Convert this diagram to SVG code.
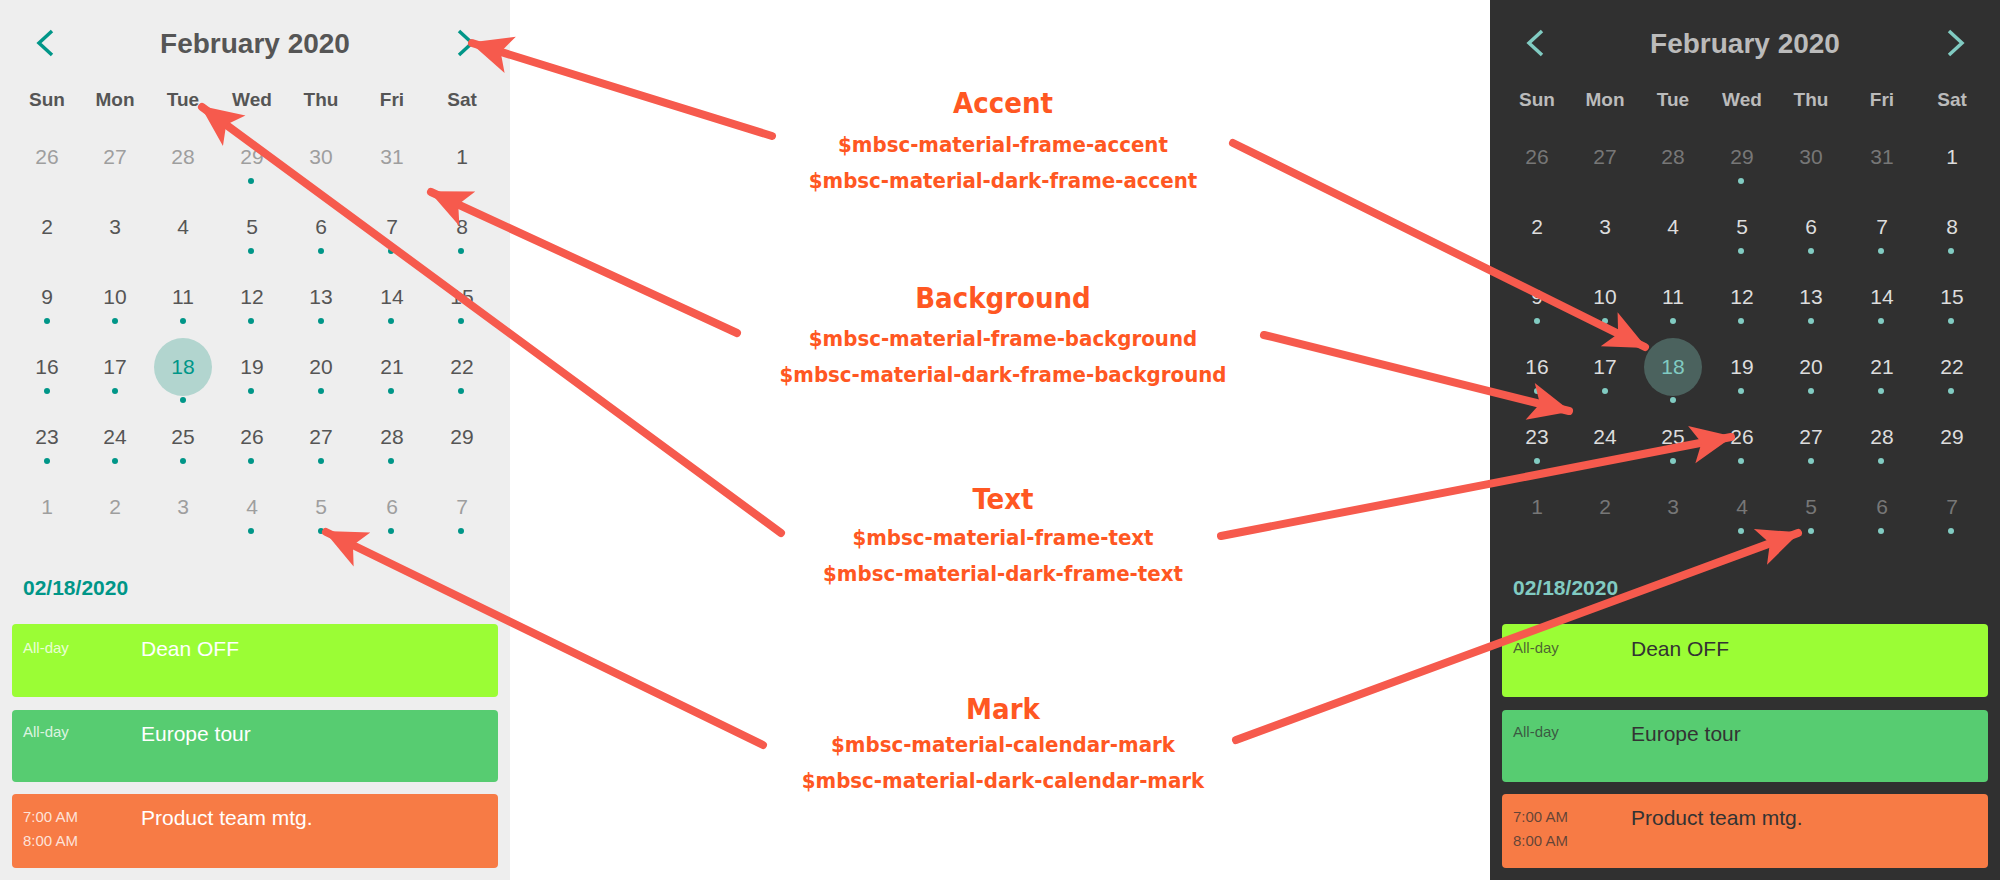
<svg xmlns="http://www.w3.org/2000/svg" width="2000" height="880" viewBox="0 0 2000 880">
<style>
text{font-family:"Liberation Sans",Arial,sans-serif}
.hd{font-size:28px;font-weight:bold;text-anchor:middle;fill:var(--hd)}
.dn{font-size:19px;font-weight:bold;text-anchor:middle;fill:var(--hd)}
.d text{font-size:21px;text-anchor:middle}
.lbl text{font-family:"DejaVu Sans Condensed","DejaVu Sans",sans-serif;fill:#ff5722;font-weight:bold;text-anchor:middle}
.lbl .t{font-size:29px}.lbl .v{font-size:22px}
.cur{fill:var(--cur)}.prev{fill:var(--prev)}.acc{fill:var(--acc)}.dot circle{fill:var(--acc)}
.chev{fill:none;stroke:var(--acc);stroke-width:3.5}
.sel{fill:var(--sel)}.ev{fill:var(--ev)}.evs{fill:var(--evs)}
.light{--hd:#555;--cur:#555;--prev:#9e9e9e;--acc:#009688;--sel:#b2d5cf;--ev:#fff;--evs:rgba(255,255,255,0.8)}
.dark{--hd:#bbb;--cur:#ddd;--prev:#777;--acc:#81cbc2;--sel:#4b625e;--ev:#333;--evs:rgba(50,50,50,0.75)}
.ar{stroke:#f65a4d;stroke-width:8;stroke-linecap:round;fill:none;marker-end:url(#ah)}
</style>
<defs>
<marker id="ah" markerUnits="userSpaceOnUse" viewBox="-42 -20 44 40" refX="0" refY="0" markerWidth="44" markerHeight="40" orient="auto"><path d="M2,0 L-40,-19 L-30,0 L-40,19 Z" fill="#f65a4d"/></marker>
<g id="cal">
<text class="hd" x="255" y="53">February 2020</text>
<text class="dn" x="47" y="106">Sun</text><text class="dn" x="115" y="106">Mon</text><text class="dn" x="183" y="106">Tue</text><text class="dn" x="252" y="106">Wed</text><text class="dn" x="321" y="106">Thu</text><text class="dn" x="392" y="106">Fri</text><text class="dn" x="462" y="106">Sat</text>
<circle class="sel" cx="183" cy="367" r="29"/>
<g class="d">
<text class="prev" x="47" y="164">26</text><text class="prev" x="115" y="164">27</text><text class="prev" x="183" y="164">28</text><text class="prev" x="252" y="164">29</text><text class="prev" x="321" y="164">30</text><text class="prev" x="392" y="164">31</text><text class="cur" x="462" y="164">1</text>
<text class="cur" x="47" y="234">2</text><text class="cur" x="115" y="234">3</text><text class="cur" x="183" y="234">4</text><text class="cur" x="252" y="234">5</text><text class="cur" x="321" y="234">6</text><text class="cur" x="392" y="234">7</text><text class="cur" x="462" y="234">8</text>
<text class="cur" x="47" y="304">9</text><text class="cur" x="115" y="304">10</text><text class="cur" x="183" y="304">11</text><text class="cur" x="252" y="304">12</text><text class="cur" x="321" y="304">13</text><text class="cur" x="392" y="304">14</text><text class="cur" x="462" y="304">15</text>
<text class="cur" x="47" y="374">16</text><text class="cur" x="115" y="374">17</text><text class="acc" x="183" y="374">18</text><text class="cur" x="252" y="374">19</text><text class="cur" x="321" y="374">20</text><text class="cur" x="392" y="374">21</text><text class="cur" x="462" y="374">22</text>
<text class="cur" x="47" y="444">23</text><text class="cur" x="115" y="444">24</text><text class="cur" x="183" y="444">25</text><text class="cur" x="252" y="444">26</text><text class="cur" x="321" y="444">27</text><text class="cur" x="392" y="444">28</text><text class="cur" x="462" y="444">29</text>
<text class="prev" x="47" y="514">1</text><text class="prev" x="115" y="514">2</text><text class="prev" x="183" y="514">3</text><text class="prev" x="252" y="514">4</text><text class="prev" x="321" y="514">5</text><text class="prev" x="392" y="514">6</text><text class="prev" x="462" y="514">7</text>
</g>
<g class="dot">
<circle cx="251" cy="181" r="3"/>
<circle cx="251" cy="251" r="3"/><circle cx="321" cy="251" r="3"/><circle cx="391" cy="251" r="3"/><circle cx="461" cy="251" r="3"/>
<circle cx="47" cy="321" r="3"/><circle cx="115" cy="321" r="3"/><circle cx="183" cy="321" r="3"/><circle cx="251" cy="321" r="3"/><circle cx="321" cy="321" r="3"/><circle cx="391" cy="321" r="3"/><circle cx="461" cy="321" r="3"/>
<circle cx="47" cy="391" r="3"/><circle cx="115" cy="391" r="3"/><circle cx="183" cy="400" r="3"/><circle cx="251" cy="391" r="3"/><circle cx="321" cy="391" r="3"/><circle cx="391" cy="391" r="3"/><circle cx="461" cy="391" r="3"/>
<circle cx="47" cy="461" r="3"/><circle cx="115" cy="461" r="3"/><circle cx="183" cy="461" r="3"/><circle cx="251" cy="461" r="3"/><circle cx="321" cy="461" r="3"/><circle cx="391" cy="461" r="3"/>
<circle cx="251" cy="531" r="3"/><circle cx="321" cy="531" r="3"/><circle cx="391" cy="531" r="3"/><circle cx="461" cy="531" r="3"/>
</g>
<path class="chev" d="M52,31 L39,43 L52,55"/>
<path class="chev" d="M459,31 L472,43 L459,55"/>
<text class="acc" x="23" y="595" font-size="21" font-weight="bold">02/18/2020</text>
<rect x="12" y="624" width="486" height="73" rx="4" fill="#9bfd35"/>
<rect x="12" y="710" width="486" height="72" rx="4" fill="#57cc71"/>
<rect x="12" y="794" width="486" height="74" rx="4" fill="#f77b45"/>
<text class="evs" x="23" y="653" font-size="15">All-day</text>
<text class="ev" x="141" y="656" font-size="21">Dean OFF</text>
<text class="evs" x="23" y="737" font-size="15">All-day</text>
<text class="ev" x="141" y="741" font-size="21">Europe tour</text>
<text class="evs" x="23" y="822" font-size="15">7:00 AM</text>
<text class="evs" x="23" y="846" font-size="15">8:00 AM</text>
<text class="ev" x="141" y="825" font-size="21">Product team mtg.</text>
</g>
</defs>
<rect width="2000" height="880" fill="#fff"/>
<g id="light-calendar" class="light"><rect x="0" y="0" width="510" height="880" fill="#eeeeee"/><use href="#cal"/></g>
<g id="dark-calendar" class="dark"><rect x="1490" y="0" width="510" height="880" fill="#303030"/><use href="#cal" x="1490"/></g>
<g id="label-accent" class="lbl"><text class="t" x="1003" y="113">Accent</text><text class="v" x="1003" y="152">$mbsc-material-frame-accent</text><text class="v" x="1003" y="188">$mbsc-material-dark-frame-accent</text></g>
<g id="label-background" class="lbl"><text class="t" x="1003" y="308">Background</text><text class="v" x="1003" y="346">$mbsc-material-frame-background</text><text class="v" x="1003" y="382">$mbsc-material-dark-frame-background</text></g>
<g id="label-text" class="lbl"><text class="t" x="1003" y="509">Text</text><text class="v" x="1003" y="545">$mbsc-material-frame-text</text><text class="v" x="1003" y="581">$mbsc-material-dark-frame-text</text></g>
<g id="label-mark" class="lbl"><text class="t" x="1003" y="719">Mark</text><text class="v" x="1003" y="752">$mbsc-material-calendar-mark</text><text class="v" x="1003" y="788">$mbsc-material-dark-calendar-mark</text></g>
<g id="connectors">
<line class="ar" x1="772" y1="136" x2="472" y2="43"/>
<line class="ar" x1="1233" y1="143" x2="1645" y2="347"/>
<line class="ar" x1="737" y1="333" x2="431" y2="192"/>
<line class="ar" x1="1264" y1="335" x2="1569" y2="411"/>
<line class="ar" x1="781" y1="533" x2="202" y2="107"/>
<line class="ar" x1="1221" y1="536" x2="1731" y2="437"/>
<line class="ar" x1="763" y1="745" x2="326" y2="532"/>
<line class="ar" x1="1236" y1="740" x2="1798" y2="533"/>
</g>
</svg>
